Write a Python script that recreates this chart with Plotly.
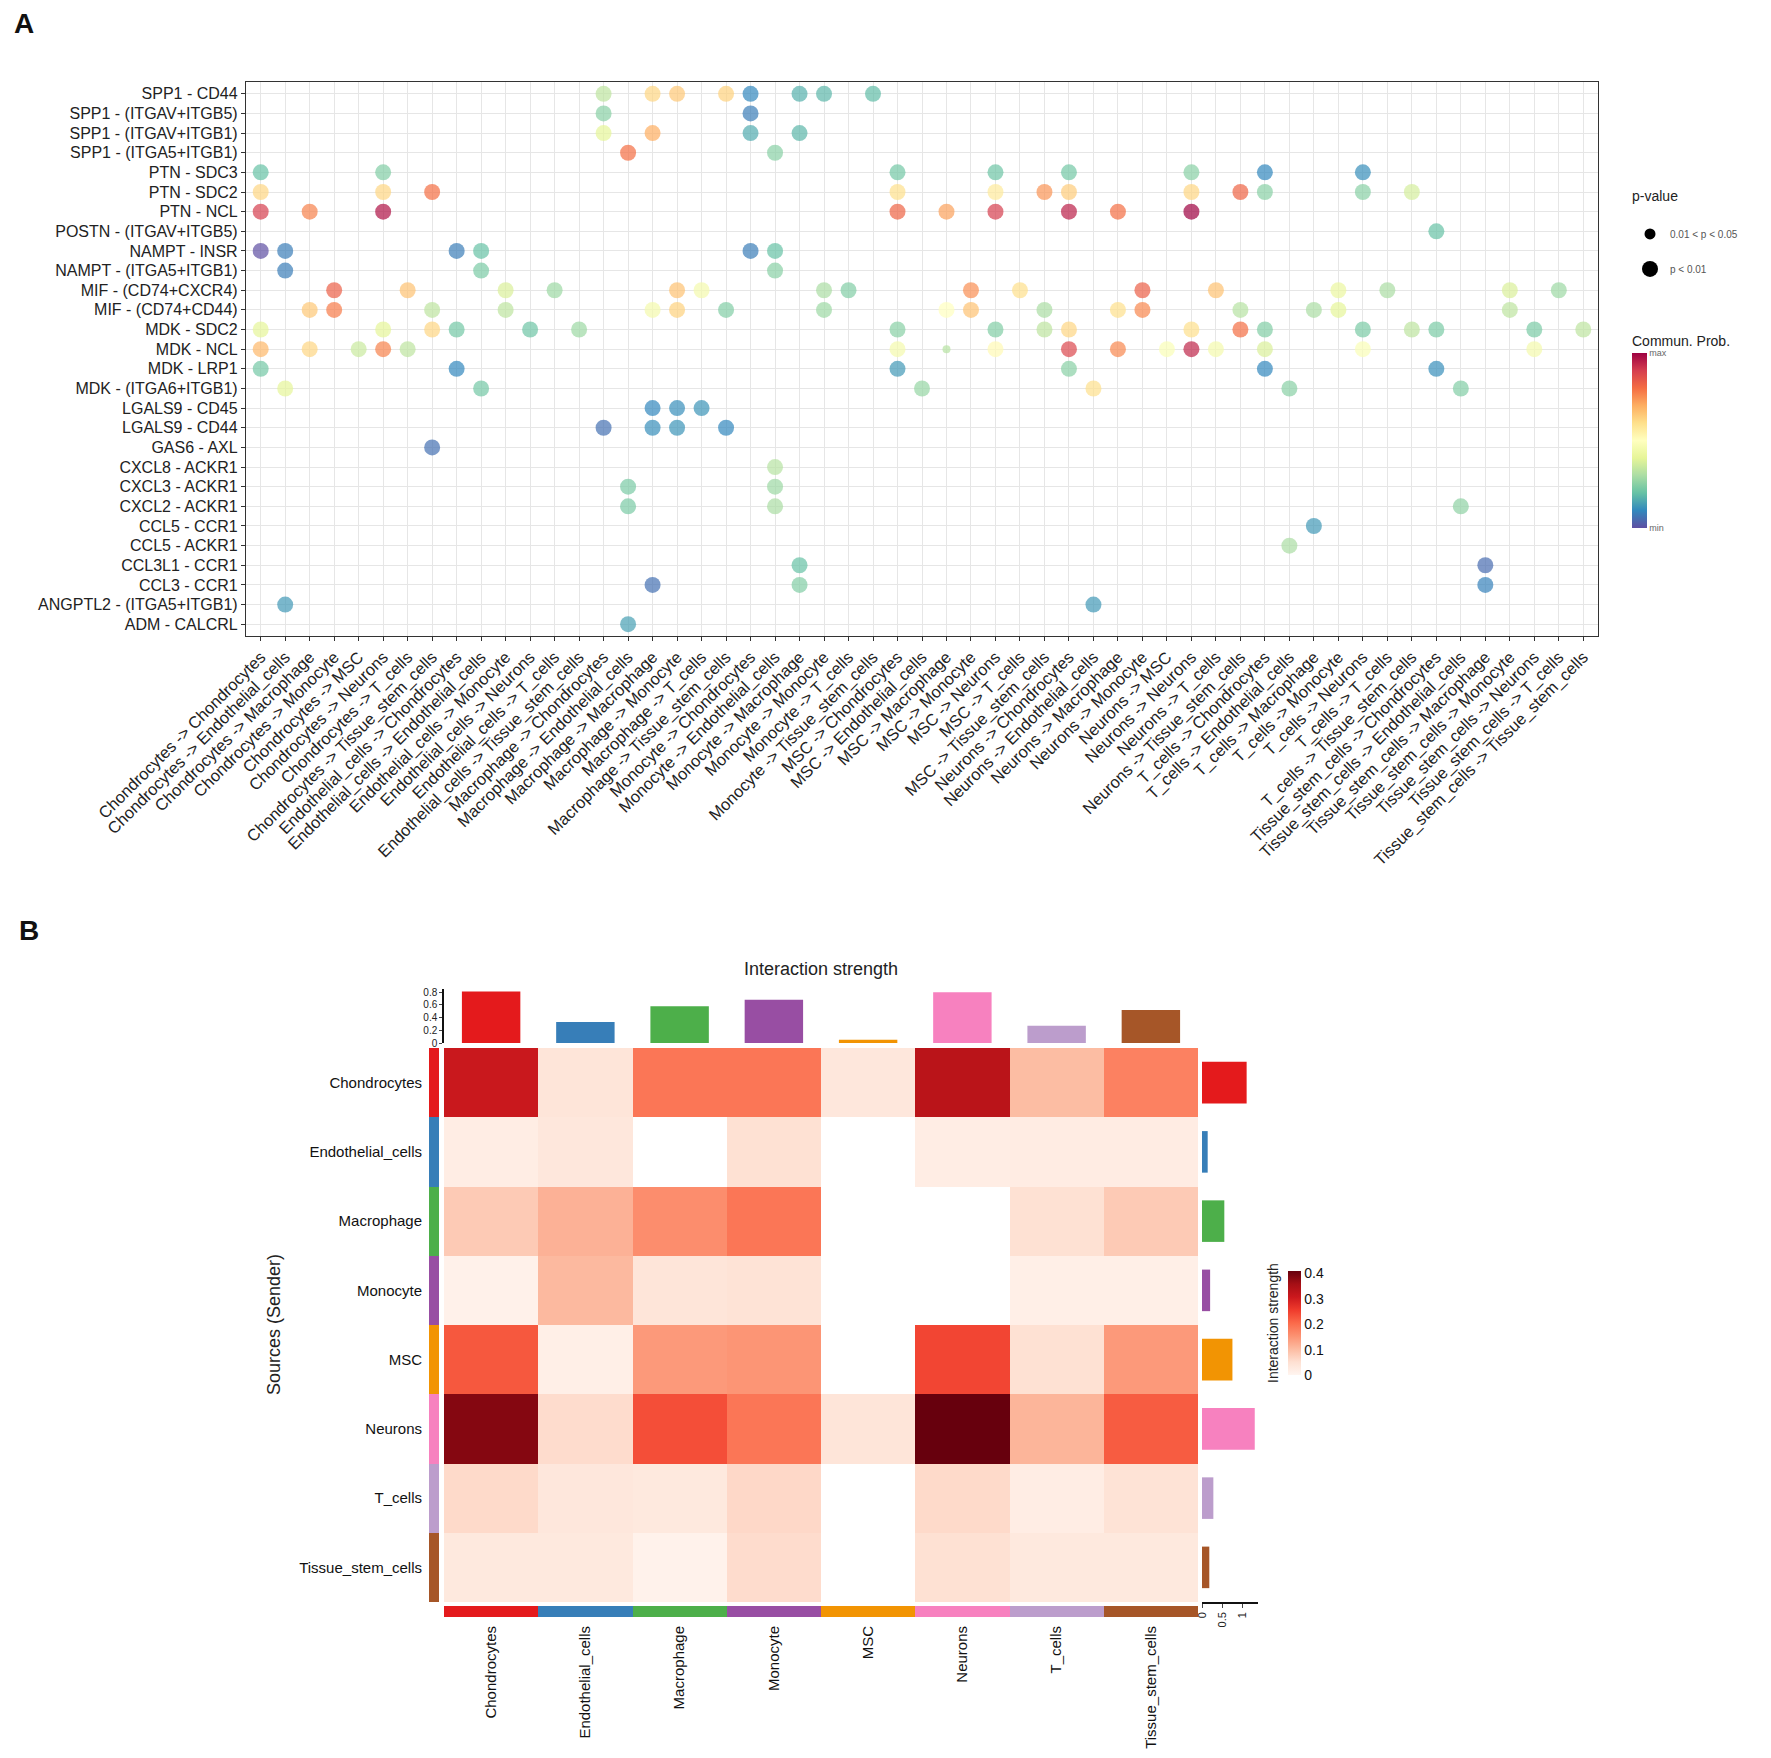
import plotly.graph_objects as go

W, H = 1771, 1758
def px(x):
    return x / W
def py(y):
    return 1 - y / H

FONT = "Liberation Sans, Arial, Helvetica, sans-serif"

# ---------------- Panel A data ----------------
pairs = [
    "Chondrocytes -> Chondrocytes", "Chondrocytes -> Endothelial_cells", "Chondrocytes -> Macrophage",
    "Chondrocytes -> Monocyte", "Chondrocytes -> MSC", "Chondrocytes -> Neurons", "Chondrocytes -> T_cells",
    "Chondrocytes -> Tissue_stem_cells",
    "Endothelial_cells -> Chondrocytes", "Endothelial_cells -> Endothelial_cells", "Endothelial_cells -> Monocyte",
    "Endothelial_cells -> Neurons", "Endothelial_cells -> T_cells", "Endothelial_cells -> Tissue_stem_cells",
    "Macrophage -> Chondrocytes", "Macrophage -> Endothelial_cells", "Macrophage -> Macrophage",
    "Macrophage -> Monocyte", "Macrophage -> T_cells", "Macrophage -> Tissue_stem_cells",
    "Monocyte -> Chondrocytes", "Monocyte -> Endothelial_cells", "Monocyte -> Macrophage",
    "Monocyte -> Monocyte", "Monocyte -> T_cells", "Monocyte -> Tissue_stem_cells",
    "MSC -> Chondrocytes", "MSC -> Endothelial_cells", "MSC -> Macrophage", "MSC -> Monocyte",
    "MSC -> Neurons", "MSC -> T_cells", "MSC -> Tissue_stem_cells",
    "Neurons -> Chondrocytes", "Neurons -> Endothelial_cells", "Neurons -> Macrophage", "Neurons -> Monocyte",
    "Neurons -> MSC", "Neurons -> Neurons", "Neurons -> T_cells", "Neurons -> Tissue_stem_cells",
    "T_cells -> Chondrocytes", "T_cells -> Endothelial_cells", "T_cells -> Macrophage", "T_cells -> Monocyte",
    "T_cells -> Neurons", "T_cells -> T_cells", "T_cells -> Tissue_stem_cells",
    "Tissue_stem_cells -> Chondrocytes", "Tissue_stem_cells -> Endothelial_cells",
    "Tissue_stem_cells -> Macrophage", "Tissue_stem_cells -> Monocyte", "Tissue_stem_cells -> Neurons",
    "Tissue_stem_cells -> T_cells", "Tissue_stem_cells -> Tissue_stem_cells",
]

interactions = [
    "SPP1 - CD44", "SPP1 - (ITGAV+ITGB5)", "SPP1 - (ITGAV+ITGB1)", "SPP1 - (ITGA5+ITGB1)",
    "PTN - SDC3", "PTN - SDC2", "PTN - NCL", "POSTN - (ITGAV+ITGB5)", "NAMPT - INSR",
    "NAMPT - (ITGA5+ITGB1)", "MIF - (CD74+CXCR4)", "MIF - (CD74+CD44)", "MDK - SDC2", "MDK - NCL",
    "MDK - LRP1", "MDK - (ITGA6+ITGB1)", "LGALS9 - CD45", "LGALS9 - CD44", "GAS6 - AXL",
    "CXCL8 - ACKR1", "CXCL3 - ACKR1", "CXCL2 - ACKR1", "CCL5 - CCR1", "CCL5 - ACKR1",
    "CCL3L1 - CCR1", "CCL3 - CCR1", "ANGPTL2 - (ITGA5+ITGB1)", "ADM - CALCRL",
]

# each dot: interaction index, pair index, relative communication probability (0=min,1=max)
dot_lr = (
    [0] * 8 + [1] * 2 + [2] * 4 + [3] * 2 + [4] * 8 + [5] * 12 + [6] * 9 + [7] * 1 + [8] * 6 + [9] * 3
    + [10] * 16 + [11] * 17 + [12] * 18 + [13] * 16 + [14] * 6 + [15] * 6 + [16] * 3 + [17] * 4
    + [18] * 1 + [19] * 1 + [20] * 2 + [21] * 3 + [22] * 1 + [23] * 1 + [24] * 2 + [25] * 3
    + [26] * 2 + [27] * 1
)
dot_pair = [
    14, 16, 17, 19, 20, 22, 23, 25,
    14, 20,
    14, 16, 20, 22,
    15, 21,
    0, 5, 26, 30, 33, 38, 41, 45,
    0, 5, 7, 26, 30, 32, 33, 38, 40, 41, 45, 47,
    0, 2, 5, 26, 28, 30, 33, 35, 38,
    48,
    0, 1, 8, 9, 20, 21,
    1, 9, 21,
    3, 6, 10, 12, 17, 18, 23, 24, 29, 31, 36, 39, 44, 46, 51, 53,
    2, 3, 7, 10, 16, 17, 19, 23, 28, 29, 32, 35, 36, 40, 43, 44, 51,
    0, 5, 7, 8, 11, 13, 26, 30, 32, 33, 38, 40, 41, 45, 47, 48, 52, 54,
    0, 2, 4, 5, 6, 26, 28, 30, 33, 35, 37, 38, 39, 41, 45, 52,
    0, 8, 26, 33, 41, 48,
    1, 9, 27, 34, 42, 49,
    16, 17, 18,
    14, 16, 17, 19,
    7,
    21,
    15, 21,
    15, 21, 49,
    43,
    42,
    22, 50,
    16, 22, 50,
    1, 34,
    15,
]
dot_prob = [
    0.33, 0.62, 0.65, 0.63, 0.10, 0.17, 0.18, 0.19,
    0.25, 0.08,
    0.40, 0.70, 0.16, 0.18,
    0.80, 0.25,
    0.20, 0.24, 0.22, 0.21, 0.22, 0.25, 0.10, 0.11,
    0.62, 0.62, 0.80, 0.60, 0.57, 0.74, 0.64, 0.62, 0.82, 0.25, 0.25, 0.37,
    0.90, 0.77, 0.97, 0.82, 0.72, 0.90, 0.95, 0.80, 1.00,
    0.20,
    0.00, 0.08, 0.08, 0.20, 0.08, 0.20,
    0.08, 0.23, 0.25,
    0.83, 0.66, 0.38, 0.28, 0.66, 0.45, 0.30, 0.24, 0.75, 0.60, 0.83, 0.66, 0.42, 0.30, 0.38, 0.28,
    0.65, 0.78, 0.33, 0.33, 0.45, 0.63, 0.24, 0.28, 0.50, 0.66, 0.30, 0.60, 0.76, 0.32, 0.30, 0.40, 0.33,
    0.40, 0.40, 0.62, 0.22, 0.21, 0.28, 0.25, 0.24, 0.33, 0.62, 0.60, 0.80, 0.24, 0.23, 0.33, 0.23, 0.23, 0.33,
    0.68, 0.62, 0.35, 0.77, 0.33, 0.45, 0.32, 0.52, 0.88, 0.76, 0.48, 0.94, 0.45, 0.38, 0.48, 0.45,
    0.22, 0.10, 0.13, 0.25, 0.10, 0.11,
    0.40, 0.22, 0.27, 0.60, 0.25, 0.24,
    0.10, 0.11, 0.12,
    0.06, 0.11, 0.12, 0.10,
    0.06,
    0.32,
    0.23, 0.28,
    0.23, 0.30, 0.26,
    0.13,
    0.30,
    0.20, 0.05,
    0.06, 0.24, 0.09,
    0.13, 0.13,
    0.14,
]
# p-value class per dot: 1 = p < 0.01, 0 = 0.01 < p < 0.05 (only MDK - NCL, MSC -> Macrophage)
dot_sig = [0 if (dot_lr[i] == 13 and dot_pair[i] == 28) else 1 for i in range(len(dot_prob))]

pval_labels = ["0.01 < p < 0.05", "p < 0.01"]

spectral_r = ["#5E4FA2", "#3288BD", "#66C2A5", "#ABDDA4", "#E6F598", "#FFFFBF",
              "#FEE08B", "#FDAE61", "#F46D43", "#D53E4F", "#9E0142"]

# ---------------- Panel B data ----------------
cells = ["Chondrocytes", "Endothelial_cells", "Macrophage", "Monocyte", "MSC",
         "Neurons", "T_cells", "Tissue_stem_cells"]
cell_colors = ["#E41A1C", "#377EB8", "#4DAF4A", "#984EA3", "#F29403", "#F781BF", "#BC9DCC", "#A65628"]

# rows = sources, columns = targets; 0 = no interaction (blank)
strength = [
    [0.310, 0.040, 0.190, 0.190, 0.035, 0.330, 0.100, 0.175],
    [0.020, 0.035, 0.000, 0.050, 0.000, 0.020, 0.022, 0.022],
    [0.082, 0.115, 0.160, 0.190, 0.000, 0.000, 0.050, 0.082],
    [0.010, 0.105, 0.040, 0.045, 0.000, 0.000, 0.015, 0.015],
    [0.225, 0.015, 0.145, 0.150, 0.000, 0.245, 0.050, 0.145],
    [0.385, 0.057, 0.235, 0.190, 0.040, 0.410, 0.110, 0.220],
    [0.060, 0.035, 0.030, 0.062, 0.000, 0.060, 0.020, 0.045],
    [0.030, 0.030, 0.008, 0.057, 0.000, 0.050, 0.030, 0.030],
]
incoming_total = [0.81, 0.33, 0.58, 0.68, 0.05, 0.80, 0.27, 0.52]
outgoing_total = [1.10, 0.14, 0.55, 0.20, 0.75, 1.30, 0.28, 0.18]

reds = ["#FFF5F0", "#FEE0D2", "#FCBBA1", "#FC9272", "#FB6A4A", "#EF3B2C", "#CB181D", "#A50F15", "#67000D"]

fig = go.Figure()

# ---------- Panel A: bubble plot ----------
fig.add_trace(go.Scatter(
    x=[pairs[i] for i in dot_pair],
    y=[interactions[j] for j in dot_lr],
    mode="markers",
    marker=dict(color=dot_prob, coloraxis="coloraxis",
                size=[16 if s else 8 for s in dot_sig], line=dict(width=0)),
    showlegend=False, xaxis="x", yaxis="y",
))
for k, lab in enumerate(pval_labels):
    fig.add_trace(go.Scatter(
        x=[None], y=[None], mode="markers", name=lab, legendgroup=lab,
        marker=dict(color="black", size=[11, 16][k]),
        xaxis="x", yaxis="y", showlegend=True,
    ))

# ---------- Panel B: heatmap ----------
z_heat = [[v if v > 0 else None for v in row] for row in strength]
fig.add_trace(go.Heatmap(
    z=z_heat, x=cells, y=cells, coloraxis="coloraxis2",
    xaxis="x2", yaxis="y2", hoverongaps=False,
))

disc = []
n = len(cells)
for i, c in enumerate(cell_colors):
    disc.append([i / n, c])
    disc.append([(i + 1) / n, c])

# left (sender) colour strip
fig.add_trace(go.Heatmap(
    z=[[i] for i in range(n)], x=["s"], y=cells, colorscale=disc,
    zmin=-0.5, zmax=n - 0.5, showscale=False, xaxis="x3", yaxis="y2",
))
# bottom (receiver) colour strip
fig.add_trace(go.Heatmap(
    z=[list(range(n))], x=cells, y=["r"], colorscale=disc,
    zmin=-0.5, zmax=n - 0.5, showscale=False, xaxis="x2", yaxis="y4",
))
# top bars (incoming)
fig.add_trace(go.Bar(
    x=cells, y=incoming_total, marker=dict(color=cell_colors, line=dict(width=0)),
    width=0.62, showlegend=False, xaxis="x2", yaxis="y5",
))
# right bars (outgoing)
fig.add_trace(go.Bar(
    y=cells, x=outgoing_total, orientation="h", marker=dict(color=cell_colors, line=dict(width=0)),
    width=0.6, showlegend=False, xaxis="x6", yaxis="y2",
))

grid = "#E6E6E6"
fig.update_layout(
    width=W, height=H, autosize=False,
    margin=dict(l=0, r=0, t=0, b=0, pad=0, autoexpand=False),
    paper_bgcolor="white", plot_bgcolor="white",
    font=dict(family=FONT, color="#1a1a1a"),
    xaxis=dict(
        domain=[px(246), px(1598)], anchor="y", type="category", automargin=False,
        categoryorder="array", categoryarray=pairs, range=[-0.6, len(pairs) - 0.4],
        tickmode="array", tickvals=pairs, ticktext=pairs,
        tickangle=-45, tickfont=dict(size=16.5, color="#222"),
        showgrid=True, gridcolor=grid, gridwidth=1,
        showline=True, mirror=True, linecolor="#333", linewidth=1.3,
        ticks="outside", ticklen=4, tickcolor="#333", zeroline=False,
    ),
    yaxis=dict(
        domain=[py(636), py(82)], anchor="x", type="category", automargin=False,
        categoryorder="array", categoryarray=interactions,
        tickmode="array", tickvals=interactions, ticktext=interactions,
        range=[len(interactions) - 0.4, -0.6],
        tickfont=dict(size=16, color="#222"),
        showgrid=True, gridcolor=grid, gridwidth=1,
        showline=True, mirror=True, linecolor="#333", linewidth=1.3,
        ticks="outside", ticklen=4, tickcolor="#333", zeroline=False,
    ),
    coloraxis=dict(
        colorscale=[[i / 10, c] for i, c in enumerate(spectral_r)], cmin=0, cmax=1,
        colorbar=dict(
            x=px(1632), xanchor="left", xpad=0, ypad=0, y=py(528), yanchor="bottom",
            len=196, lenmode="pixels", thickness=15, thicknessmode="pixels",
            outlinewidth=0, tickvals=[0, 1], ticktext=["min", "max"], ticks="",
            tickfont=dict(size=9, color="#666"),
            title=dict(text="Commun. Prob.", side="top", font=dict(size=14, color="#222")),
        ),
    ),
    legend=dict(
        x=px(1630), xanchor="left", y=py(183), yanchor="top",
        title=dict(text="p-value<br> ", font=dict(size=14, color="#222")),
        font=dict(size=10, color="#555"), itemsizing="trace", tracegroupgap=16,
        bgcolor="rgba(0,0,0,0)",
    ),
    # ----- panel B axes -----
    xaxis2=dict(
        domain=[px(444), px(1198)], anchor="y4", type="category", automargin=False,
        categoryorder="array", categoryarray=cells, range=[-0.5, n - 0.5],
        tickangle=-90, tickfont=dict(size=15, color="#111"), ticks="",
        ticklabelstandoff=5, showgrid=False, showline=False, zeroline=False,
    ),
    yaxis2=dict(
        domain=[py(1602), py(1048)], anchor="x3", type="category", automargin=False,
        categoryorder="array", categoryarray=cells, range=[n - 0.5, -0.5],
        tickfont=dict(size=15, color="#111"), ticks="", ticklabelstandoff=6,
        showgrid=False, showline=False, zeroline=False,
    ),
    xaxis3=dict(domain=[px(429), px(439)], anchor="y2", visible=False, range=[-0.5, 0.5]),
    yaxis4=dict(domain=[py(1617), py(1606)], anchor="x2", visible=False, range=[-0.5, 0.5]),
    yaxis5=dict(
        domain=[py(1043), py(989)], anchor="x2", range=[0, 0.85], automargin=False,
        tickvals=[0, 0.2, 0.4, 0.6, 0.8], ticktext=["0", "0.2", "0.4", "0.6", "0.8"],
        tickfont=dict(size=10, color="#222"), ticks="outside", ticklen=3,
        showline=True, linecolor="#111", linewidth=1.5, showgrid=False, zeroline=False,
    ),
    xaxis6=dict(
        domain=[px(1202), px(1258)], anchor="y2", range=[0, 1.38], automargin=False,
        tickvals=[0, 0.5, 1], ticktext=["0", "0.5", "1"], tickangle=-90,
        tickfont=dict(size=11, color="#222"), ticks="outside", ticklen=4,
        showline=True, linecolor="#111", linewidth=1.5, showgrid=False, zeroline=False,
    ),
    coloraxis2=dict(
        colorscale=[[i / 8, c] for i, c in enumerate(reds)], cmin=0, cmax=0.41,
        colorbar=dict(
            x=px(1288), xanchor="left", xpad=0, ypad=0, y=py(1323), yanchor="middle",
            len=104, lenmode="pixels", thickness=13, thicknessmode="pixels",
            outlinewidth=0, tickvals=[0, 0.1, 0.2, 0.3, 0.4],
            ticktext=["0", "0.1", "0.2", "0.3", "0.4"], ticks="",
            tickfont=dict(size=14, color="#111"),
        ),
    ),
    annotations=[
        dict(text="<b>A</b>", x=px(12), y=py(24), xref="paper", yref="paper",
             xanchor="left", yanchor="middle", showarrow=False, font=dict(size=28, color="#111")),
        dict(text="<b>B</b>", x=px(17), y=py(930), xref="paper", yref="paper",
             xanchor="left", yanchor="middle", showarrow=False, font=dict(size=28, color="#111")),
        dict(text="Interaction strength", x=px(821), y=py(969), xref="paper", yref="paper",
             xanchor="center", yanchor="middle", showarrow=False, font=dict(size=18, color="#222")),
        dict(text="Sources (Sender)", x=px(274), y=py(1325), xref="paper", yref="paper",
             xanchor="center", yanchor="middle", textangle=-90, showarrow=False,
             font=dict(size=18, color="#222")),
        dict(text="Interaction strength", x=px(1273), y=py(1323), xref="paper", yref="paper",
             xanchor="center", yanchor="middle", textangle=-90, showarrow=False,
             font=dict(size=14, color="#222")),
    ],
)

fig.write_html(
    "out.html",
    config={"displayModeBar": False},
    post_script="document.body.style.margin='0';document.body.style.padding='0';",
)
